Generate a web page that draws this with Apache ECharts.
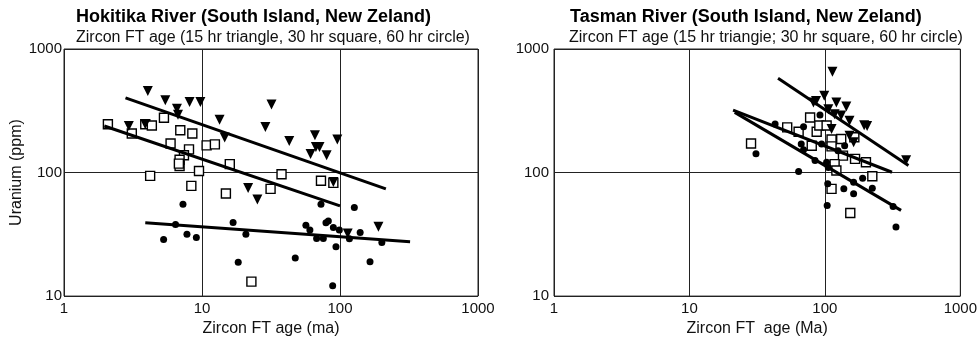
<!DOCTYPE html>
<html><head><meta charset="utf-8">
<script src="https://cdn.jsdelivr.net/npm/echarts@6/dist/echarts.min.js"></script>
<style>html,body{margin:0;padding:0;background:#fff}#c{width:980px;height:342px}</style>
</head><body><div id="c"></div>
<script>
// ---- Data (x = Zircon FT age, y = Uranium ppm) ----
const xTicks = [1, 10, 100, 1000];
const yTicks = [10, 100, 1000];

const hokTri = [[4.05,457],[5.42,385],[6.58,329],[6.7,294],[8.13,373],[9.73,373],[2.95,238],[3.88,246],[13.4,268],[14.6,192],[31.9,355],[28.8,234],[42.9,180],[65.8,200],[66.9,161],[71,161],[61.2,141],[80,138],[95.6,185],[89.5,84],[21.6,75],[25.2,60.5],[113.7,32.1],[190,36.4]];
const hokSq = [[2.08,246],[3.10,207],[3.88,246],[4.33,240],[5.30,278],[5.92,172],[6.96,220],[8.51,207],[8.05,154],[7.40,138],[6.88,127],[6.88,113],[6.8,118],[4.21,94],[9.51,103],[8.37,78],[10.8,166],[12.4,169],[15.9,117],[14.9,67.6],[37.7,97],[31.4,73.8],[72.8,85.8],[89.5,82.5],[22.8,13.1]];
const hokCirc = [[7.28,55.5],[6.43,38.0],[5.27,28.7],[7.78,31.7],[9.10,29.8],[16.8,39.5],[20.8,31.7],[18.3,18.8],[47.4,20.3],[56.6,37.5],[60.5,34.2],[67.7,29.3],[75.7,29.3],[72.8,55.5],[79.1,39.2],[82.3,40.6],[89.5,35.9],[98.9,34.2],[93.5,25.1],[88.5,12.1],[127,52.2],[117,29.1],[140,32.7],[165,19.0],[201,27.2]];
const hokTriFit = [[2.79,402],[215,73.8]];
const hokSqFit = [[1.96,238],[100,53.7]];
const hokCircFit = [[3.88,39.2],[322,27.5]];

const tasTri = [[113.7,653],[82.3,369],[86,380],[98.9,418],[106,326],[121.6,369],[144,343],[118,297],[132,289],[152,262],[112,225],[195,242],[205,238],[152,199],[163,176],[398,126]];
const tasSq = [[28.5,172],[52.7,232],[64.0,214],[77.8,279],[87,214],[91,240],[103,240],[80,165],[112,185],[132,187],[165,193],[112,163],[136,137],[167,129],[201,121],[118,117],[121.6,104],[224,93.4],[112,73.8],[154,47.0]];
const tasCirc = [[31.0,142],[42.9,247],[64,102],[69.6,235],[66.9,170],[69.6,153],[84.6,125],[92,292],[94.6,170],[103,121],[106,110],[105,81],[104,54.2],[125,150],[138,73.8],[163,67.3],[190,90],[224,74.8],[319,53.2],[335,36.2],[163,83.6],[140,165]];
const tasTriFit = [[45.1,580],[414,114]];
const tasSqFit = [[21.0,320],[313,100.6]];
const tasCircFit = [[21.6,307],[365,49.4]];

const titles = ['Hokitika River (South Island, New Zeland)','Tasman River (South Island, New Zeland)'];
const subtitles = ['Zircon FT age (15 hr triangle, 30 hr square, 60 hr circle)','Zircon FT age (15 hr triangie; 30 hr square, 60 hr circle)'];
const xNames = ['Zircon FT age (ma)','Zircon FT  age (Ma)'];
const yName = 'Uranium (ppm)';

// ---- Chart ----
const FONT = '"Liberation Sans", Arial, Helvetica, sans-serif';
const chart = echarts.init(document.getElementById('c'));
function xAx(i){return {type:'log',logBase:10,min:1,max:1000,gridIndex:i,name:xNames[i],nameLocation:'middle',nameGap:20,
  nameTextStyle:{fontFamily:FONT,fontSize:16,color:'#111'},
  axisLine:{show:false},axisTick:{show:false},
  axisLabel:{fontFamily:FONT,fontSize:15,color:'#111',margin:5,formatter:v=>String(Math.round(v))},
  splitLine:{show:true,lineStyle:{color:'#222',width:1}},minorTick:{show:false}};}
function yAx(i){return {type:'log',logBase:10,min:10,max:1000,gridIndex:i,
  name:i===0?yName:'',nameLocation:'middle',nameGap:38,
  nameTextStyle:{fontFamily:FONT,fontSize:16,color:'#111'},
  axisLine:{show:false},axisTick:{show:false},
  axisLabel:{fontFamily:FONT,fontSize:15,color:'#111',margin:i===0?2:5,formatter:v=>String(Math.round(v))},
  splitLine:{show:true,lineStyle:{color:'#222',width:1}}};}
function tri(i,d){return {type:'scatter',xAxisIndex:i,yAxisIndex:i,data:d,symbol:'triangle',symbolRotate:180,symbolSize:10,itemStyle:{color:'#000',opacity:1},z:3};}
function sq(i,d){return {type:'scatter',xAxisIndex:i,yAxisIndex:i,data:d,symbol:'rect',symbolSize:9,itemStyle:{color:'#fff',borderColor:'#000',borderWidth:1.4,opacity:1},z:2};}
function circ(i,d){return {type:'scatter',xAxisIndex:i,yAxisIndex:i,data:d,symbol:'circle',symbolSize:7,itemStyle:{color:'#000',opacity:1},z:3};}
function fit(i,d){return {type:'line',xAxisIndex:i,yAxisIndex:i,data:d,symbol:'none',lineStyle:{color:'#000',width:3},z:4,silent:true};}

chart.setOption({
  animation:false,
  backgroundColor:'#fff',
  title:[
    {text:titles[0],left:76,top:8,padding:0,textStyle:{fontFamily:FONT,fontSize:18,fontWeight:'bold',color:'#000'}},
    {text:subtitles[0],left:76,top:30,padding:0,textStyle:{fontFamily:FONT,fontSize:16,fontWeight:'normal',color:'#111'}},
    {text:titles[1],left:570,top:8,padding:0,textStyle:{fontFamily:FONT,fontSize:18,fontWeight:'bold',color:'#000'}},
    {text:subtitles[1],left:569,top:30,padding:0,textStyle:{fontFamily:FONT,fontSize:16,fontWeight:'normal',color:'#111'}}
  ],
  grid:[
    {left:64,top:49,width:414,height:248,show:true,borderColor:'#222',borderWidth:1,backgroundColor:'transparent'},
    {left:554,top:49,width:414,height:249,show:true,borderColor:'#222',borderWidth:1,backgroundColor:'transparent'}
  ],
  xAxis:[xAx(0),xAx(1)],
  yAxis:[yAx(0),yAx(1)],
  series:[
    sq(0,hokSq),tri(0,hokTri),circ(0,hokCirc),fit(0,hokTriFit),fit(0,hokSqFit),fit(0,hokCircFit),
    sq(1,tasSq),tri(1,tasTri),circ(1,tasCirc),fit(1,tasTriFit),fit(1,tasSqFit),fit(1,tasCircFit)
  ]
});
</script></body></html>
